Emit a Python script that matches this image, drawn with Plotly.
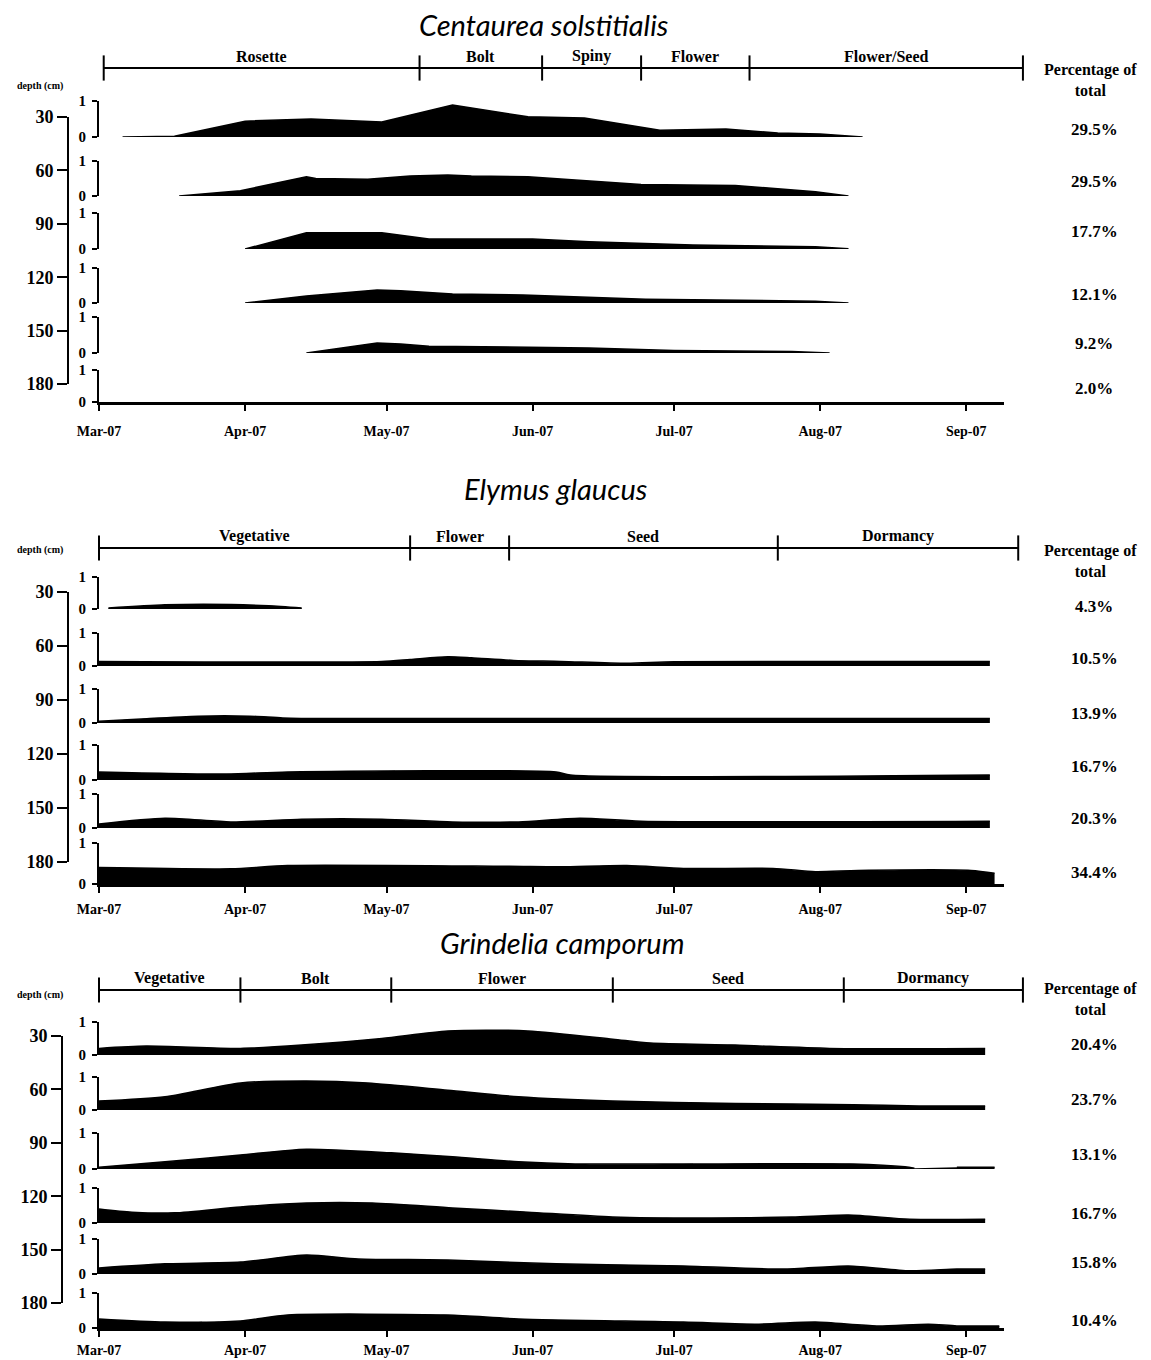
import plotly.graph_objects as go
import pandas as pd

# page is photographed with the browser's 8px body margin at top/left
OFF = 8
FW, FH = 1151 - OFF, 1360 - OFF

# ---------------- data ----------------
depths = [30, 60, 90, 120, 150, 180]
month_ticks = ['2007-03-01', '2007-04-01', '2007-05-01', '2007-06-01',
               '2007-07-01', '2007-08-01', '2007-09-01']
month_labels = ['Mar-07', 'Apr-07', 'May-07', 'Jun-07', 'Jul-07', 'Aug-07', 'Sep-07']

# Centaurea solstitialis (relative value 0-1 per depth)
cs30_dates = ['2007-03-06', '2007-03-17', '2007-04-01', '2007-04-15', '2007-04-30', '2007-05-15',
              '2007-05-31', '2007-06-12', '2007-06-28', '2007-07-12', '2007-07-23', '2007-08-01', '2007-08-10']
cs30_vals = [0, 0.02, 0.44, 0.5, 0.42, 0.89, 0.56, 0.53, 0.19, 0.22, 0.11, 0.08, 0]
cs60_dates = ['2007-03-18', '2007-03-31', '2007-04-14', '2007-04-16', '2007-04-27', '2007-05-06', '2007-05-14',
              '2007-05-19', '2007-05-31', '2007-06-12', '2007-06-24', '2007-07-14', '2007-07-31', '2007-08-07']
cs60_vals = [0, 0.15, 0.55, 0.5, 0.48, 0.57, 0.6, 0.57, 0.55, 0.45, 0.33, 0.3, 0.12, 0]
cs90_dates = ['2007-04-01', '2007-04-14', '2007-04-30', '2007-05-08', '2007-05-10', '2007-06-01',
              '2007-06-13', '2007-07-05', '2007-07-31', '2007-08-07']
cs90_vals = [0, 0.45, 0.45, 0.3, 0.28, 0.28, 0.2, 0.11, 0.06, 0.01]
cs120_dates = ['2007-04-01', '2007-04-14', '2007-04-29', '2007-05-04', '2007-05-15', '2007-05-30',
               '2007-06-25', '2007-07-31', '2007-08-07']
cs120_vals = [0, 0.2, 0.37, 0.35, 0.26, 0.23, 0.11, 0.05, 0]
cs150_dates = ['2007-04-14', '2007-04-29', '2007-05-04', '2007-05-10', '2007-06-13', '2007-07-01',
               '2007-07-26', '2007-08-03']
cs150_vals = [0, 0.28, 0.25, 0.19, 0.14, 0.07, 0.04, 0]
cs180_dates = []
cs180_vals = []
cs_pct = ['29.5%', '29.5%', '17.7%', '12.1%', '9.2%', '2.0%']
cs_phases = ['Rosette', 'Bolt', 'Spiny', 'Flower', 'Flower/Seed']
cs_bounds = ['2007-03-02', '2007-05-08', '2007-06-03', '2007-06-24', '2007-07-17', '2007-09-13']

# Elymus glaucus
eg30_dates = ['2007-03-03', '2007-03-15', '2007-03-29', '2007-04-06', '2007-04-13']
eg30_vals = [0.03, 0.13, 0.14, 0.1, 0.03]
eg60_dates = ['2007-03-01', '2007-04-30', '2007-05-06', '2007-05-14', '2007-05-19', '2007-05-28',
              '2007-06-07', '2007-06-21', '2007-07-01', '2007-09-06']
eg60_vals = [0.14, 0.14, 0.2, 0.28, 0.25, 0.17, 0.14, 0.08, 0.13, 0.14]
eg90_dates = ['2007-03-01', '2007-03-10', '2007-03-22', '2007-04-02', '2007-04-09', '2007-04-19', '2007-09-06']
eg90_vals = [0.05, 0.12, 0.2, 0.2, 0.15, 0.13, 0.13]
eg120_dates = ['2007-03-01', '2007-03-28', '2007-04-10', '2007-06-06', '2007-06-09', '2007-09-06']
eg120_vals = [0.23, 0.17, 0.23, 0.23, 0.14, 0.14]
eg150_dates = ['2007-03-01', '2007-03-15', '2007-03-29', '2007-04-13', '2007-04-30', '2007-05-15',
               '2007-05-29', '2007-06-11', '2007-06-24', '2007-09-06']
eg150_vals = [0.12, 0.29, 0.18, 0.26, 0.26, 0.18, 0.18, 0.29, 0.2, 0.2]
eg180_dates = ['2007-03-01', '2007-03-29', '2007-04-10', '2007-05-27', '2007-06-07', '2007-06-21',
               '2007-07-03', '2007-07-22', '2007-07-31', '2007-08-09', '2007-09-02', '2007-09-07']
eg180_vals = [0.4, 0.37, 0.45, 0.43, 0.42, 0.45, 0.38, 0.38, 0.3, 0.33, 0.33, 0.26]
eg_pct = ['4.3%', '10.5%', '13.9%', '16.7%', '20.3%', '34.4%']
eg_phases = ['Vegetative', 'Flower', 'Seed', 'Dormancy']
eg_bounds = ['2007-03-01', '2007-05-06', '2007-05-27', '2007-07-23', '2007-09-12']

# Grindelia camporum
gc30_dates = ['2007-03-01', '2007-03-11', '2007-03-31', '2007-04-13', '2007-04-30', '2007-05-14',
              '2007-05-31', '2007-06-18', '2007-06-26', '2007-07-14', '2007-08-03', '2007-09-05']
gc30_vals = [0.2, 0.27, 0.2, 0.3, 0.5, 0.73, 0.73, 0.48, 0.36, 0.3, 0.2, 0.2]
gc60_dates = ['2007-03-01', '2007-03-15', '2007-03-31', '2007-04-14', '2007-04-27', '2007-05-14',
              '2007-05-29', '2007-06-18', '2007-07-14', '2007-08-08', '2007-08-22', '2007-09-05']
gc60_vals = [0.27, 0.4, 0.82, 0.88, 0.82, 0.6, 0.4, 0.27, 0.2, 0.16, 0.12, 0.12]
gc90_dates = ['2007-03-01', '2007-03-15', '2007-03-31', '2007-04-14', '2007-05-02', '2007-05-15',
              '2007-05-29', '2007-06-10', '2007-08-08', '2007-08-19', '2007-08-21', '2007-08-25',
              '2007-08-30', '2007-09-07']
gc90_vals = [0.05, 0.2, 0.39, 0.55, 0.45, 0.34, 0.2, 0.14, 0.14, 0.06, 0.02, None, 0.05, 0.05]
gc120_dates = ['2007-03-01', '2007-03-08', '2007-03-17', '2007-03-31', '2007-04-14', '2007-04-28',
               '2007-05-15', '2007-05-31', '2007-06-18', '2007-07-09', '2007-07-26', '2007-08-07',
               '2007-08-20', '2007-09-05']
gc120_vals = [0.4, 0.31, 0.29, 0.46, 0.57, 0.57, 0.43, 0.31, 0.17, 0.14, 0.17, 0.23, 0.11, 0.11]
gc150_dates = ['2007-03-01', '2007-03-15', '2007-03-31', '2007-04-14', '2007-04-25', '2007-05-14',
               '2007-06-06', '2007-07-03', '2007-07-24', '2007-08-07', '2007-08-20', '2007-08-30', '2007-09-05']
gc150_vals = [0.17, 0.29, 0.34, 0.54, 0.43, 0.4, 0.29, 0.23, 0.14, 0.23, 0.09, 0.14, 0.14]
gc180_dates = ['2007-03-01', '2007-03-15', '2007-03-31', '2007-04-10', '2007-05-14', '2007-05-29',
               '2007-07-03', '2007-07-19', '2007-07-31', '2007-08-13', '2007-08-24', '2007-08-30', '2007-09-08']
gc180_vals = [0.26, 0.17, 0.2, 0.37, 0.37, 0.26, 0.17, 0.11, 0.17, 0.06, 0.11, 0.06, 0.06]
gc_pct = ['20.4%', '23.7%', '13.1%', '16.7%', '15.8%', '10.4%']
gc_phases = ['Vegetative', 'Bolt', 'Flower', 'Seed', 'Dormancy']
gc_bounds = ['2007-03-01', '2007-03-31', '2007-05-02', '2007-06-18', '2007-08-06', '2007-09-13']


# ---------------- layout helpers (window pixels -> paper) ----------------
def px(x):
    return (x - OFF) / FW


def py(y):
    return 1 - (y - OFF) / FH


SERIF = 'Liberation Serif'


def BOLD(s):
    return dict(family=SERIF, size=s, color='black', weight='bold')


panels = [
    dict(title='Centaurea solstitialis', title_x=543, title_y=25,
         rows=[(cs30_dates, cs30_vals), (cs60_dates, cs60_vals), (cs90_dates, cs90_vals),
               (cs120_dates, cs120_vals), (cs150_dates, cs150_vals), (cs180_dates, cs180_vals)],
         pct=cs_pct, phases=cs_phases, bounds=cs_bounds, shape='linear',
         base=[137, 196, 249, 303, 353, 402], hgt=[36, 35, 36, 35, 36, 32],
         depth_top=117, depth_bot=384, depth_x=68, phase_y=68, depth_lbl_y=78,
         pct_head_y=80, pct_y=[130, 181, 232, 294, 344, 388], standoff=8),
    dict(title='Elymus glaucus', title_x=555, title_y=488,
         rows=[(eg30_dates, eg30_vals), (eg60_dates, eg60_vals), (eg90_dates, eg90_vals),
               (eg120_dates, eg120_vals), (eg150_dates, eg150_vals), (eg180_dates, eg180_vals)],
         pct=eg_pct, phases=eg_phases, bounds=eg_bounds, shape='spline',
         base=[609, 666, 723, 780, 828, 884], hgt=[32, 33, 34, 35, 34, 41],
         depth_top=592, depth_bot=862, depth_x=68, phase_y=548, depth_lbl_y=550,
         pct_head_y=561, pct_y=[606, 658, 713, 767, 818, 872], standoff=4),
    dict(title='Grindelia camporum', title_x=562, title_y=943,
         rows=[(gc30_dates, gc30_vals), (gc60_dates, gc60_vals), (gc90_dates, gc90_vals),
               (gc120_dates, gc120_vals), (gc150_dates, gc150_vals), (gc180_dates, gc180_vals)],
         pct=gc_pct, phases=gc_phases, bounds=gc_bounds, shape='spline',
         base=[1055, 1110, 1169, 1223, 1274, 1328], hgt=[33, 33, 36, 35, 35, 35],
         depth_top=1036, depth_bot=1303, depth_x=62, phase_y=990, depth_lbl_y=1003,
         pct_head_y=999, pct_y=[1044, 1099, 1154, 1213, 1262, 1320], standoff=1),
]

fig = go.Figure()
layout = {}
annotations = []
counters = {'x': 0, 'y': 0}


def new_axis(kind):
    counters[kind] += 1
    n = counters[kind]
    key = ('xaxis' if kind == 'x' else 'yaxis') + ('' if n == 1 else str(n))
    ref = kind + ('' if n == 1 else str(n))
    return key, ref


X_START = pd.Timestamp('2007-03-01')
X_END = pd.Timestamp('2007-09-09')
PH_END = pd.Timestamp('2007-09-14 12:00')

for p in panels:
    # main x axis
    xkey, xref = new_axis('x')
    row_refs = []
    for i, (d, v) in enumerate(p['rows']):
        ykey, yref = new_axis('y')
        row_refs.append(yref)
        layout[ykey] = dict(domain=[py(p['base'][i]), py(p['base'][i] - p['hgt'][i])],
                            range=[0, 1], anchor=xref, showgrid=False, zeroline=False,
                            showline=True, linecolor='black', linewidth=2, automargin=False,
                            ticks='outside', ticklen=5, tickwidth=2, tickcolor='black',
                            tickvals=[0, 1], ticktext=['0', '1'], tickfont=BOLD(15),
                            ticklabelstandoff=3, fixedrange=True)
        if len(d):
            fig.add_trace(go.Scatter(x=d, y=v, xaxis=xref, yaxis=yref, mode='lines',
                                     fill='tozeroy', fillcolor='black',
                                     line=dict(color='black', width=1.5, shape=p['shape'],
                                               smoothing=0.7),
                                     connectgaps=False, showlegend=False, hoverinfo='skip'))
        else:
            fig.add_trace(go.Scatter(x=[month_ticks[0]], y=[0], xaxis=xref, yaxis=yref,
                                     mode='markers', marker=dict(opacity=0),
                                     showlegend=False, hoverinfo='skip'))
    layout[xkey] = dict(domain=[px(99), px(1004)], range=[X_START, X_END], type='date',
                        anchor=row_refs[-1], showgrid=False, zeroline=False, automargin=False,
                        showline=True, linecolor='black', linewidth=3,
                        ticks='outside', ticklen=6, tickwidth=2, tickcolor='black',
                        tickvals=month_ticks, ticktext=month_labels, tickfont=BOLD(14),
                        ticklabelstandoff=p['standoff'], fixedrange=True)

    # depth axis
    dkey, dref = new_axis('y')
    layout[dkey] = dict(domain=[py(p['depth_bot']), py(p['depth_top'])], range=[180, 30],
                        anchor='free', position=px(p['depth_x']), showgrid=False, zeroline=False,
                        showline=True, linecolor='black', linewidth=2, automargin=False,
                        ticks='outside', ticklen=10, tickwidth=2, tickcolor='black',
                        tickvals=depths, ticktext=[str(v) for v in depths], tickfont=BOLD(18),
                        fixedrange=True)
    fig.add_trace(go.Scatter(x=[month_ticks[0]], y=[30], xaxis=xref, yaxis=dref, mode='markers',
                             marker=dict(opacity=0), showlegend=False, hoverinfo='skip'))

    # phase bar
    pxkey, pxref = new_axis('x')
    pykey, pyref = new_axis('y')
    layout[pxkey] = dict(domain=[px(99), px(1030)], range=[X_START, PH_END], type='date',
                         anchor=pyref, visible=False, fixedrange=True, automargin=False)
    layout[pykey] = dict(domain=[py(p['phase_y'] + 12), py(p['phase_y'] - 12)], range=[-1, 1],
                         anchor=pxref, visible=False, fixedrange=True, automargin=False)
    fig.add_trace(go.Scatter(x=p['bounds'], y=[0] * len(p['bounds']), xaxis=pxref, yaxis=pyref,
                             mode='lines+markers', cliponaxis=False,
                             line=dict(color='black', width=2),
                             marker=dict(symbol='line-ns', size=18, color='black',
                                         line=dict(width=2, color='black')),
                             showlegend=False, hoverinfo='skip'))
    b = pd.to_datetime(p['bounds'])
    for name, a0, a1 in zip(p['phases'], b[:-1], b[1:]):
        mid = a0 + (a1 - a0) / 2
        annotations.append(dict(x=mid, y=py(p['phase_y'] - 1), xref=pxref, yref='paper',
                                text=name, showarrow=False, yanchor='bottom', xanchor='center',
                                font=BOLD(16)))

    # title
    annotations.append(dict(x=px(p['title_x']), y=py(p['title_y']), xref='paper',
                            yref='paper', text=p['title'], showarrow=False, yanchor='middle',
                            font=dict(family='Lato', size=29, color='black', style='italic')))
    # depth label
    annotations.append(dict(x=px(40), y=py(p['depth_lbl_y']), xref='paper', yref='paper',
                            text='depth (cm)', showarrow=False, xanchor='center',
                            font=BOLD(10)))
    # percentage header and values
    annotations.append(dict(x=px(1090), y=py(p['pct_head_y']), xref='paper', yref='paper',
                            text='Percentage of<br>total', showarrow=False, xanchor='center',
                            yanchor='middle', font=BOLD(16)))
    for txt, yy in zip(p['pct'], p['pct_y']):
        annotations.append(dict(x=px(1094), y=py(yy), xref='paper', yref='paper', text=txt,
                                showarrow=False, xanchor='center', yanchor='middle',
                                font=BOLD(17)))

layout.update(dict(width=FW, height=FH, margin=dict(l=0, r=0, t=0, b=0, autoexpand=False),
                   paper_bgcolor='white', plot_bgcolor='rgba(0,0,0,0)', showlegend=False,
                   annotations=annotations))
fig.update_layout(**layout)
fig.write_html('out.html')
